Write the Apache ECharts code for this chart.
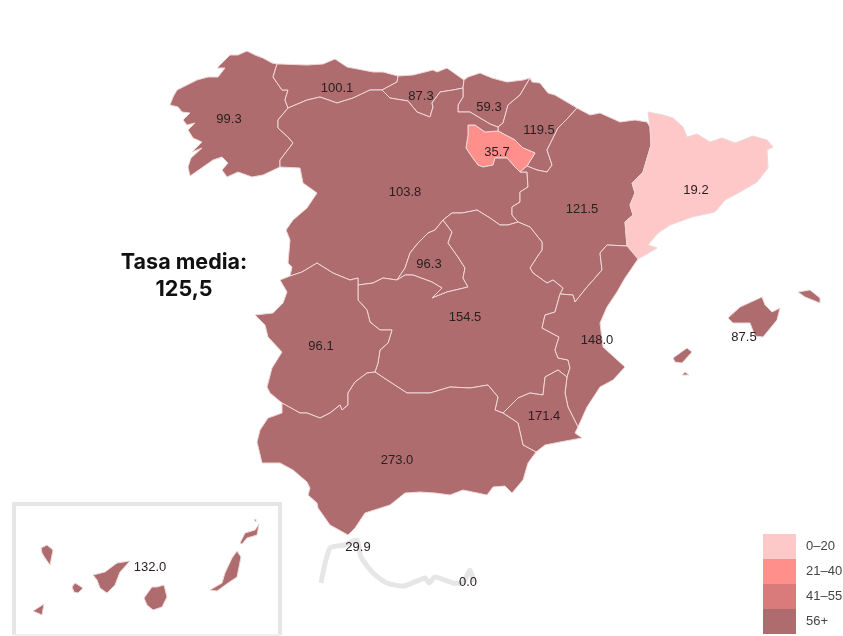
<!DOCTYPE html>
<html>
<head>
<meta charset="utf-8">
<title>Tasa por comunidad autónoma</title>
<script src="https://cdn.jsdelivr.net/npm/echarts@6/dist/echarts.min.js"></script>
<style>
  html, body { margin: 0; padding: 0; background: #fff; }
  #chart { width: 843px; height: 636px; }
</style>
</head>
<body>
<div id="chart"></div>
<script>
// values
const regions = ['Galicia', 'Asturias', 'Cantabria', 'País Vasco', 'Navarra', 'La Rioja', 'Castilla y León',
  'Aragón', 'Cataluña', 'Madrid', 'Castilla-La Mancha', 'Extremadura', 'C. Valenciana', 'Murcia',
  'Andalucía', 'Baleares', 'Canarias', 'Ceuta', 'Melilla']
const rates = [99.3, 100.1, 87.3, 59.3, 119.5, 35.7, 103.8, 121.5, 19.2, 96.3, 154.5, 96.1, 148.0, 171.4, 273.0, 87.5, 132.0, 29.9, 0.0]

const legendLabels = ['0–20', '21–40', '41–55', '56+']
const legendMins = [0, 21, 41, 56]
const legendMaxs = [20, 40, 55, Infinity]
const legendColors = ['#FFC8C8', '#FF8F8A', '#D97B7B', '#AE6C6E']

const meanLabel = 'Tasa media:\n125,5'

// map outlines, traced in map units (1 unit = 1 px of the picture, y pointing down)
const galCoast = [[277,64],[272,63],[263,58],[255,55],[247,51],[238,55],[230,55],[223,62],[217,68],[225,68],[218,77],[208,77],[197,80],[187,85],[177,90],[173,97],[170,105],[178,107],[182,112],[190,113],[183,120],[187,125],[195,123],[188,130],[193,138],[202,142],[192,152],[202,148],[191,158],[188,167],[190,176],[203,167],[213,160],[222,157],[228,163],[222,170],[227,177],[238,172],[252,177],[263,175],[280,167]]
const galAst = [[288,108],[285,100],[288,90],[282,90],[273,77],[277,64]]
const galCyl = [[288,108],[278,120],[278,128],[288,137],[293,143],[290,147],[280,160],[280,167]]
const astCoast = [[277,64],[280,64],[307,65],[323,64],[335,59],[347,67],[373,72],[383,72],[398,76]]
const astCant = [[398,76],[397,82],[382,90]]
const astCyl = [[288,108],[307,100],[320,97],[337,103],[353,98],[370,90],[382,90]]
const cantCoast = [[398,76],[413,75],[433,70],[437,72],[447,68],[464,80]]
const cantPv = [[464,80],[463,88]]
const cantCyl = [[382,90],[390,98],[408,101],[417,112],[430,117],[433,107],[432,103],[440,92],[453,90],[463,88]]
const pvCoast = [[464,80],[468,77],[480,73],[492,78],[507,82],[523,80],[530,78]]
const pvNav = [[530,78],[520,95],[508,105],[503,123],[498,127]]
const pvCyl = [[463,88],[463,97],[458,105],[458,112],[470,112],[480,118],[490,124],[498,127]]
const navCoast = [[530,78],[532,82],[540,83],[548,93],[555,95],[577,108]]
const navCyl = [[498,127],[498,131]]
const navAra = [[577,108],[568,118],[558,128],[552,140],[547,150],[552,165],[547,172],[537,170],[527,166]]
const navRio = [[498,131],[515,140],[523,148],[535,153],[527,166]]
const rioAra = [[527,166],[520,172]]
const rioCyl = [[498,131],[485,132],[475,125],[468,125],[468,135],[466,148],[472,157],[478,165],[483,167],[493,165],[495,158],[507,158],[515,167],[520,172]]
const araNorth = [[577,108],[590,115],[600,113],[620,122],[635,120],[647,122],[650,127]]
const araCyl = [[520,172],[527,172],[528,187],[520,192],[520,202],[512,207],[512,215],[518,222]]
const cylClmE = [[518,222],[508,225],[500,225],[490,218],[477,210],[462,213],[452,213],[443,220]]
const madCyl = [[397,280],[405,268],[410,253],[418,243],[428,233],[435,230],[443,220]]
const madClm = [[443,220],[452,232],[448,243],[458,257],[465,268],[463,278],[468,287],[447,292],[432,298],[442,288],[432,282],[413,275],[405,275],[397,280]]
const cylClmW = [[397,280],[383,278],[373,283],[358,285]]
const cylCoast = [[280,167],[300,168],[303,183],[317,193],[307,208],[293,220],[286,230],[290,240],[288,263],[292,267],[290,276]]
const extCyl = [[358,285],[358,278],[350,280],[333,273],[317,263],[302,272],[290,276]]
const extPort = [[290,276],[280,280],[287,292],[283,303],[273,313],[255,315],[265,325],[268,337],[282,352],[272,368],[267,387],[270,393],[282,403]]
const extClm = [[358,285],[358,300],[367,310],[370,322],[380,330],[392,330],[388,343],[380,350],[378,363],[375,372]]
const extAnd = [[375,372],[367,373],[355,382],[348,393],[348,405],[342,410],[340,405],[330,413],[320,418],[307,413],[300,413],[282,403]]
const andCoast = [[282,403],[282,413],[268,418],[260,430],[257,442],[262,463],[280,463],[293,470],[307,482],[310,488],[308,495],[317,503],[318,508],[330,525],[348,535],[355,528],[365,513],[390,505],[405,493],[420,492],[435,493],[450,495],[463,490],[487,495],[493,487],[505,486],[512,493],[523,480],[528,463],[536,452]]
const andMur = [[536,452],[523,445],[518,423],[503,413]]
const andClm = [[375,372],[387,380],[407,393],[430,393],[450,387],[470,388],[488,385],[498,397],[495,410],[503,413]]
const murClm = [[503,413],[518,398],[530,393],[543,395],[545,377],[558,370],[567,377]]
const murVal = [[567,377],[565,393],[568,407],[578,427]]
const murCoast = [[578,427],[575,433],[582,438],[560,442],[545,445],[536,452]]
const valClm = [[567,377],[570,368],[568,360],[558,358],[555,350],[559,337],[542,328],[545,315],[555,312],[560,294]]
const araClm = [[560,294],[563,288],[553,280],[547,283],[533,273],[530,268],[537,257],[542,250],[542,242],[530,227],[518,222]]
const araVal = [[560,294],[573,295],[575,302],[587,287],[602,270],[600,253],[607,245],[627,246]]
const valCat = [[627,246],[638,259]]
const valCoast = [[638,259],[625,278],[617,292],[607,307],[600,323],[603,347],[625,367],[613,380],[600,387],[587,407],[578,427]]
const catAra = [[627,246],[625,222],[633,215],[630,205],[635,193],[632,183],[643,172],[651,145],[650,127]]
const catCoast = [[650,127],[648,112],[663,115],[673,118],[683,127],[687,137],[697,134],[710,142],[722,138],[735,143],[753,136],[767,140],[773,147],[767,150],[768,168],[757,182],[740,192],[725,200],[715,212],[692,217],[670,225],[658,233],[648,245],[657,248],[645,255],[638,259]]

const mallorca = [[728,318],[740,307],[762,297],[765,305],[772,312],[780,308],[777,320],[763,337],[755,336],[750,323],[733,323]]
const menorca = [[798,292],[810,290],[820,298],[820,303],[805,297]]
const ibiza = [[673,358],[687,348],[692,352],[682,363],[675,362]]
const formentera = [[682,375],[685,372],[689,375]]
const laPalma = [[41,548],[47,545],[53,550],[50,565],[45,558],[42,553]]
const hierro = [[33,611],[44,604],[42,615]]
const gomera = [[72,587],[75,583],[83,588],[78,593],[74,592]]
const tenerife = [[93,575],[105,572],[117,563],[130,561],[120,572],[115,585],[107,593],[100,588],[97,580]]
const granCanaria = [[144,598],[152,587],[157,587],[164,585],[167,597],[162,607],[153,610],[147,605]]
const fuerteventura = [[210,590],[222,583],[225,573],[232,558],[237,551],[241,557],[237,577],[228,583],[217,591]]
const lanzarote = [[240,543],[245,533],[255,530],[259,524],[257,535],[247,538],[242,544]]
const graciosa = [[254,520],[256,519],[256,522]]
const ceutaDot = [[358,538],[358.3,538],[358.2,538.3]]
const melillaDot = [[464,574],[464.3,574],[464.2,574.3]]

// label anchors, same order as regions
const labelAnchors = [[229,119],[337,88],[421,96],[489,107],[539,130],[497,152],[405,192],[582,209],[696,190],[429,264],[465,317],[321,346],[597,340],[544,416],[397,460],[744,337],[150,567],[358,547],[468,582]]

// grey decoration: Canarias inset box and the Ceuta/Melilla call-out
const insetBox = [[14,635],[14,504],[280,504],[280,635]]
const insetFloor = [[14,635],[280,635]]
const calloutLine = [[321,583],[330,548],[345,545],[357,540],[361,557],[373,573],[387,583],[404,586],[425,578],[429,583],[435,577],[453,583],[463,583],[470,570],[474,582]]

const rev = arc => arc.slice().reverse()
const ring = (...arcs) => {
  const pts = arcs.flat().map(p => [p[0], -p[1]])
  pts.push(pts[0])
  return pts
}

const regionRings = [
  [ring(galCoast, rev(galCyl), galAst)],
  [ring(astCoast, astCant, rev(astCyl), galAst)],
  [ring(cantCoast, cantPv, rev(cantCyl), rev(astCant))],
  [ring(pvCoast, pvNav, rev(pvCyl), rev(cantPv))],
  [ring(navCoast, navAra, rev(navRio), rev(navCyl), rev(pvNav))],
  [ring(navRio, rioAra, rev(rioCyl))],
  [ring(galCyl, cylCoast, rev(extCyl), rev(cylClmW), madCyl, rev(cylClmE), rev(araCyl), rev(rioCyl), rev(navCyl), rev(pvCyl), rev(cantCyl), rev(astCyl))],
  [ring(araVal, catAra, rev(araNorth), navAra, rioAra, araCyl, rev(araClm))],
  [ring(catAra, catCoast, rev(valCat))],
  [ring(madCyl, madClm)],
  [ring(cylClmE, madClm, cylClmW, extClm, andClm, murClm, valClm, araClm)],
  [ring(extCyl, extPort, rev(extAnd), rev(extClm))],
  [ring(rev(valClm), murVal, rev(valCoast), rev(valCat), rev(araVal))],
  [ring(murClm, murVal, murCoast, andMur)],
  [ring(andCoast, andMur, rev(andClm), extAnd)],
  [ring(mallorca), ring(menorca), ring(ibiza), ring(formentera)],
  [ring(laPalma), ring(hierro), ring(gomera), ring(tenerife), ring(granCanaria), ring(fuerteventura), ring(lanzarote), ring(graciosa)],
  [ring(ceutaDot)],
  [ring(melillaDot)]
]

const spainGeo = {
  type: 'FeatureCollection',
  features: regions.map((name, i) => ({
    type: 'Feature',
    properties: { name, cp: [labelAnchors[i][0], -labelAnchors[i][1]] },
    geometry: { type: 'MultiPolygon', coordinates: regionRings[i].map(r => [r]) }
  }))
}

echarts.registerMap('spain', spainGeo)

const chart = echarts.init(document.getElementById('chart'))

chart.setOption({
  animation: false,
  title: {
    text: meanLabel,
    left: 179,
    top: 244,
    textAlign: 'center',
    textStyle: { fontFamily: 'Inter', fontSize: 21.5, fontWeight: 'bold', lineHeight: 27, color: '#111' }
  },
  tooltip: { trigger: 'item', formatter: p => p.name + ': ' + p.value.toFixed(1) },
  visualMap: {
    type: 'piecewise',
    left: 763,
    top: 534,
    padding: 0,
    inverse: true,
    align: 'left',
    itemWidth: 33,
    itemHeight: 25,
    itemGap: 0,
    textGap: 10,
    itemSymbol: 'rect',
    selectedMode: false,
    textStyle: { fontFamily: 'Liberation Sans', fontSize: 13, color: '#444' },
    pieces: legendLabels.map((label, i) => ({
      label,
      min: legendMins[i],
      max: legendMaxs[i],
      color: legendColors[i]
    }))
  },
  graphic: [
    {
      type: 'polyline',
      shape: { points: insetBox },
      style: { fill: null, stroke: '#E6E6E6', lineWidth: 4 }
    },
    {
      type: 'polyline',
      shape: { points: insetFloor },
      style: { fill: null, stroke: '#F0F0F0', lineWidth: 2 }
    },
    {
      type: 'polyline',
      shape: { points: calloutLine, smooth: 0.2 },
      style: { fill: null, stroke: '#E6E6E6', lineWidth: 5 }
    }
  ],
  series: [
    {
      type: 'map',
      map: 'spain',
      roam: false,
      aspectScale: 1,
      boundingCoords: [[0, 0], [843, -636]],
      left: 0,
      top: 0,
      width: 843,
      height: 636,
      selectedMode: false,
      itemStyle: { borderColor: '#EFD6D6', borderWidth: 1 },
      label: {
        show: true,
        fontFamily: 'Liberation Sans',
        fontSize: 13,
        color: '#2b2020',
        formatter: p => p.value.toFixed(1)
      },
      emphasis: { disabled: true },
      data: regions.map((name, i) => ({
        name,
        value: rates[i],
        itemStyle: name === 'Ceuta' || name === 'Melilla' ? { borderWidth: 0 } : undefined
      }))
    }
  ]
})
</script>
</body>
</html>
